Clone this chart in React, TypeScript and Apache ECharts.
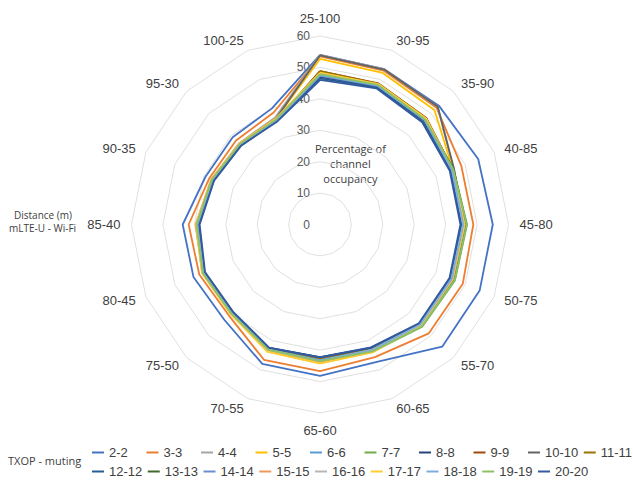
import React, { useEffect, useRef } from "react";
import * as echarts from "echarts";

// Axis categories (clockwise from the top)
const distances = [
  "25-100", "30-95", "35-90", "40-85", "45-80", "50-75", "55-70", "60-65",
  "65-60", "70-55", "75-50", "80-45", "85-40", "90-35", "95-30", "100-25",
];

const seriesNames = [
  "2-2", "3-3", "4-4", "5-5", "6-6", "7-7", "8-8", "9-9", "10-10", "11-11",
  "12-12", "13-13", "14-14", "15-15", "16-16", "17-17", "18-18", "19-19", "20-20",
];

const tickValues = [0, 10, 20, 30, 40, 50, 60];

// Percentage of channel occupancy per series (same order as distances)
const s2 = [54, 53.5, 53.5, 54.5, 55, 55, 55, 47.3, 48.2, 48, 43, 43.6, 43.7, 39.5, 39.3, 40];
const s3 = [53.5, 53, 52.5, 48.7, 48.8, 49.2, 49, 45.7, 46.7, 46.6, 41, 41.6, 41.8, 38.2, 37.8, 38.6];
const s4 = [54, 53.5, 53, 46, 45.5, 45.5, 45, 43, 43.5, 43, 39.8, 40.2, 39.5, 37.3, 36.5, 37];
const s5 = [52.7, 52.2, 51.5, 45.8, 45.8, 45.5, 45, 44, 44.2, 43.8, 40, 40.3, 39.5, 37.2, 36.3, 36.5];
const s6 = [47.5, 48, 47, 45.5, 45.5, 45.3, 45, 43, 43, 43, 39.8, 40.2, 39, 37, 36, 36];
const s7 = [47.8, 48, 47.2, 46, 46.8, 46.5, 46, 43.8, 43.6, 43.2, 40, 40.4, 39.3, 37.2, 36, 36.2];
const s8 = [47, 47.5, 46.8, 45, 45, 45, 44.8, 42.5, 42.3, 42.5, 39.4, 39.8, 38.8, 36.8, 35.8, 35.8];
const s9 = [48.8, 48.6, 47.9, 45.8, 45.6, 45.3, 45, 42.6, 42.5, 42.6, 39.5, 40, 38.8, 36.9, 35.9, 36];
const s10 = [53.8, 53.4, 53, 46.2, 45.8, 45.5, 45.2, 43.2, 43.4, 43, 39.9, 40.3, 39.2, 37.2, 36.2, 36.5];
const s11 = [48.8, 48.5, 47.8, 45.6, 45.5, 45.2, 45, 42.8, 42.6, 42.7, 39.6, 40, 38.9, 37, 36, 36];
const s12 = [46.5, 47.2, 46.3, 44.9, 45, 44.8, 44.7, 42.5, 42.3, 42.5, 39.3, 39.8, 38.5, 36.6, 35.6, 35.7];
const s13 = [48, 48.2, 47.4, 46, 46.6, 46.2, 45.8, 43.5, 43.3, 43, 39.9, 40.3, 39.2, 37.2, 36, 36.2];
const s14 = [47.3, 47.8, 47, 45.4, 45.5, 45.2, 45, 43.2, 43.2, 43, 39.8, 40.2, 39, 37, 36, 36];
const s15 = [48.2, 48.3, 47.6, 45.7, 46, 45.8, 45.5, 43.6, 43.8, 43.4, 40.2, 40.6, 39.6, 37.5, 36.4, 36.6];
const s16 = [48, 48.2, 47.5, 45.6, 45.6, 45.4, 45.2, 43.2, 43.4, 43.2, 40, 40.3, 39.3, 37.2, 36.2, 36.3];
const s17 = [48.3, 48.4, 47.7, 45.7, 45.9, 45.6, 45.4, 44, 44.2, 43.8, 40.3, 40.6, 39.5, 37.4, 36.3, 36.5];
const s18 = [47.6, 47.9, 47.1, 45.5, 45.6, 45.4, 45.1, 43.3, 43.3, 43.1, 39.9, 40.2, 39.1, 37.1, 36.1, 36.1];
const s19 = [47.9, 48.1, 47.3, 45.9, 46.7, 46.4, 45.9, 43.7, 43.5, 43.1, 40, 40.4, 39.3, 37.3, 36.1, 36.3];
const s20 = [46, 46.9, 46, 44.7, 44.7, 44.6, 44.5, 42.3, 42.2, 42.4, 39.2, 39.6, 38.3, 36.5, 35.5, 35.5];

const seriesValues = [s2, s3, s4, s5, s6, s7, s8, s9, s10, s11, s12, s13, s14, s15, s16, s17, s18, s19, s20];

const colors = [
  "#4472C4", "#ED7D31", "#A5A5A5", "#FFC000", "#5B9BD5", "#70AD47", "#264478", "#9E480E", "#636363", "#997300",
  "#255E91", "#43682B", "#698ED0", "#F1975A", "#B7B7B7", "#FFCD33", "#7CAFDD", "#8CC168", "#335AA1",
];

const ARIAL = "'Liberation Sans', Arial, sans-serif";
const SANS = "'Open Sans', 'Noto Sans', sans-serif";
const W = 633;
const H = 482;
const CX = 320;
const CY = 224.5;
const RADIUS = 188.5;

// ECharts radar goes counter-clockwise; reorder so the picture runs clockwise.
const reorder = <T,>(arr: T[]): T[] => [arr[0], ...arr.slice(1).reverse()];

export default function App() {
  const ref = useRef<HTMLDivElement>(null);

  useEffect(() => {
    if (!ref.current) return;
    const chart = echarts.init(ref.current, undefined, { renderer: "svg" });

    const legendBase = {
      orient: "horizontal",
      left: 92,
      padding: 0,
      itemGap: 5.5,
      itemWidth: 12,
      itemHeight: 2,
      icon: "rect",
      selectedMode: false,
      textStyle: {
        fontFamily: ARIAL,
        fontSize: 13,
        color: "#404040",
        width: 32,
        lineHeight: 15,
        padding: [7, 0, 0, 0],
      },
    };

    const option: any = {
      animation: false,
      color: colors,
      radar: {
        center: [CX, CY],
        radius: RADIUS,
        startAngle: 90,
        shape: "polygon",
        splitNumber: 6,
        nameGap: 11,
        indicator: reorder(distances).map((name) => ({ name, min: 0, max: 60 })),
        axisName: { color: "#404040", fontSize: 13, fontFamily: ARIAL },
        splitLine: { lineStyle: { color: "#E0E0E0", width: 1 } },
        splitArea: { show: false },
        axisLine: { show: false },
        axisTick: { show: false },
        axisLabel: { show: false },
      },
      // a zero-width grid whose y axis lies on the top spoke, for the value labels
      grid: {
        left: CX,
        right: W - CX - 1,
        top: CY - RADIUS,
        bottom: H - CY,
        containLabel: false,
      },
      xAxis: { type: "value", show: false, min: 0, max: 1 },
      yAxis: {
        type: "value",
        min: tickValues[0],
        max: tickValues[tickValues.length - 1],
        interval: 10,
        axisLine: { show: false },
        axisTick: { show: false },
        splitLine: { show: false },
        axisLabel: { color: "#595959", fontSize: 12, fontFamily: ARIAL, margin: 10 },
      },
      legend: [
        { ...legendBase, top: 441.5, data: seriesNames.slice(0, 10) },
        { ...legendBase, top: 460.5, data: seriesNames.slice(10) },
      ],
      graphic: [
        {
          type: "text",
          left: 315,
          top: 141,
          style: {
            text: "Percentage of\nchannel\noccupancy",
            x: 35,
            textAlign: "center",
            fontSize: 11,
            lineHeight: 15,
            fontFamily: SANS,
            fill: "#404040",
          },
        },
        {
          type: "text",
          left: 14,
          top: 210,
          style: {
            text: "Distance (m)",
            fontSize: 10,
            fontFamily: SANS,
            fill: "#404040",
          },
        },
        {
          type: "text",
          left: 9,
          top: 222.5,
          style: {
            text: "mLTE-U - Wi-Fi",
            fontSize: 10,
            fontFamily: SANS,
            fill: "#404040",
          },
        },
        {
          type: "text",
          left: 8,
          top: 455,
          style: {
            text: "TXOP - muting",
            fontSize: 11,
            fontFamily: SANS,
            fill: "#404040",
          },
        },
      ],
      series: [
        {
          type: "line",
          xAxisIndex: 0,
          yAxisIndex: 0,
          data: [],
          silent: true,
        },
        ...seriesNames.map((name, i) => ({
          type: "radar",
          name,
          symbol: "none",
          lineStyle: { width: 1.8, color: colors[i] },
          itemStyle: { color: colors[i] },
          data: [{ name, value: reorder(seriesValues[i]) }],
        })),
      ],
    };

    chart.setOption(option);
    return () => chart.dispose();
  }, []);

  return (
    <div
      ref={ref}
      style={{ position: "fixed", left: 0, top: 0, width: W, height: H, background: "#fff" }}
    />
  );
}
